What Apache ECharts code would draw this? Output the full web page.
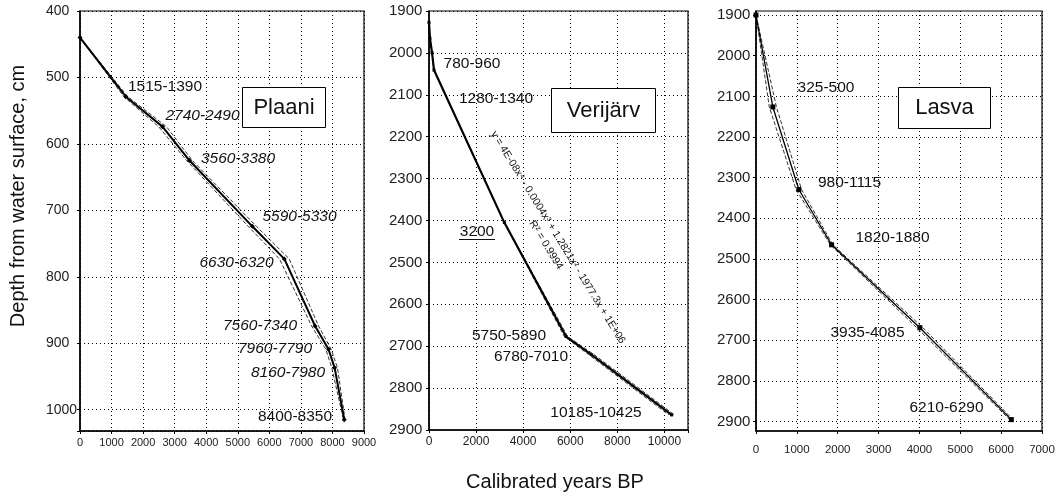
<!DOCTYPE html>
<html><head><meta charset="utf-8">
<script src="https://cdn.jsdelivr.net/npm/echarts@6/dist/echarts.min.js"></script>
<style>html,body{margin:0;padding:0;background:#fff}#c{width:1059px;height:493px}</style>
</head><body><div id="c"></div>
<script>
// ---- Plaani ----
const plaaniYears = [0, 1452, 2615, 3470, 5460, 6475, 7450, 7875, 8070, 8375];
const plaaniLow   = [0, 1390, 2490, 3380, 5330, 6320, 7340, 7790, 7980, 8350];
const plaaniHigh  = [0, 1515, 2740, 3560, 5590, 6630, 7560, 7960, 8160, 8400];
const plaaniDepth = [440, 529, 574, 625, 724, 773, 874, 909, 937, 1015];
// ---- Verijärv ----
const verYears = [0, 40, 130, 212, 3200, 5820, 6895, 10305];
const verLow   = [0, 40, 130, 212, 3200, 5750, 6780, 10185];
const verHigh  = [0, 40, 130, 212, 3200, 5890, 7010, 10425];
const verDepth = [1927, 1965, 2000, 2041, 2405, 2677, 2720, 2864];
// ---- Lasva ----
const lasYears = [0, 412, 1048, 1850, 4010, 6250];
const lasLow   = [0, 325, 980, 1820, 3935, 6210];
const lasHigh  = [0, 500, 1115, 1880, 4085, 6290];
const lasDepth = [1900, 2126, 2329, 2465, 2669, 2895];
// tick labels
const lasYTicks = [1900, 2000, 2100, 2200, 2300, 2400, 2500, 2600, 2700, 2800, 2900];
const verXTicks = [0, 2000, 4000, 6000, 8000, 10000];

const FONT = '"Liberation Sans", Arial, sans-serif';
const zip = (a, b) => a.map((v, i) => [v, b[i]]);
const plain = v => String(v);

const dotted = {show: true, lineStyle: {color: '#000', width: 1, type: [1, 3]}};
function xAx(gi, max, interval, fs, margin, fmt) {
  return {
    type: 'value', gridIndex: gi, min: 0, max: max, interval: interval,
    axisLine: {show: true, onZero: false, lineStyle: {color: '#000', width: 1.5}},
    axisTick: {show: true, length: 3, lineStyle: {color: '#000'}},
    axisLabel: {fontSize: fs, margin: margin, color: '#222', fontFamily: FONT, formatter: fmt || plain},
    splitLine: dotted
  };
}
function yAx(gi, min, max, fs, margin, extra, fmt, custom) {
  const ax = {
    type: 'value', gridIndex: gi, inverse: true, min: min, max: max,
    axisLine: {show: true, onZero: false, lineStyle: {color: '#000', width: 1.5}},
    axisTick: {show: true, length: 3, lineStyle: {color: '#000'}},
    axisLabel: {fontSize: fs, margin: margin, align: 'left', color: '#222', fontFamily: FONT, formatter: fmt || plain},
    splitLine: dotted
  };
  if (custom) { ax.axisTick.customValues = custom; ax.axisLabel.customValues = custom; }
  return Object.assign(ax, extra || {});
}
function mainLine(xi, data, w, sym, ss) {
  return {type: 'line', xAxisIndex: xi, yAxisIndex: xi, data: data, symbol: sym, symbolSize: ss,
    showSymbol: true, itemStyle: {color: '#000'}, lineStyle: {color: '#000', width: w}, z: 5, animation: false};
}
function envLine(xi, data) {
  return {type: 'line', xAxisIndex: xi, yAxisIndex: xi, data: data, symbol: 'none',
    lineStyle: {color: '#000', width: 0.8, type: [4, 2]}, z: 4, animation: false};
}

const gridBox = {show: true, borderColor: '#000', borderWidth: 1.2, backgroundColor: 'transparent'};

function txt(t, x, y, opts, rotation) {
  const g = {type: 'text', x: x, y: y, z: 50,
    style: Object.assign({text: t, fill: '#111', font: '15.5px ' + FONT, align: 'center', verticalAlign: 'middle'}, opts || {})};
  if (rotation !== undefined) g.rotation = rotation;
  return g;
}
function box(x, y, w, h) {
  return {type: 'rect', z: 40, shape: {x: x, y: y, width: w, height: h},
    style: {fill: '#fff', stroke: '#000', lineWidth: 1}};
}
const it = {font: 'italic 15.5px ' + FONT};
const rot = -58.4 * Math.PI / 180;

const option = {
  backgroundColor: '#fff',
  animation: false,
  grid: [
    Object.assign({left: 80, top: 11, width: 284, height: 420}, gridBox),
    Object.assign({left: 429, top: 11, width: 259, height: 419}, gridBox),
    Object.assign({left: 756, top: 11, width: 286, height: 420}, gridBox)
  ],
  xAxis: [
    xAx(0, 9000, 1000, 11, 6),
    xAx(1, 11000, 2000, 12, 6, v => (verXTicks.indexOf(v) >= 0 ? String(v) : '')),
    xAx(2, 7000, 1000, 11.5, 13)
  ],
  yAxis: [
    yAx(0, 400, 1032, 14, 34, {interval: 100}, v => (v % 100 === 0 ? String(v) : '')),
    yAx(1, 1900, 2900, 15, 40, {interval: 100}),
    yAx(2, 1890, 2923, 15, 39, null, null, lasYTicks)
  ],
  series: [
    envLine(0, zip(plaaniLow, plaaniDepth)),
    envLine(0, zip(plaaniHigh, plaaniDepth)),
    mainLine(0, zip(plaaniYears, plaaniDepth), 2, 'diamond', 5),
    envLine(1, zip(verLow, verDepth)),
    envLine(1, zip(verHigh, verDepth)),
    mainLine(1, zip(verYears, verDepth), 2.2, 'rect', 3),
    envLine(2, zip(lasLow, lasDepth)),
    envLine(2, zip(lasHigh, lasDepth)),
    mainLine(2, zip(lasYears, lasDepth), 1.3, 'rect', 5)
  ],
  graphic: [
    // axis titles
    txt('Depth from water surface, cm', 18, 196, {font: '20px ' + FONT}, Math.PI / 2),
    txt('Calibrated years BP', 555, 482, {font: '20px ' + FONT}),
    // Plaani
    box(242.5, 87.5, 83, 40), txt('Plaani', 284, 107.5, {font: '22px ' + FONT}),
    txt('1515-1390', 165, 87),
    txt('2740-2490', 202.5, 116, it),
    txt('3560-3380', 238, 159, it),
    txt('5590-5330', 299.5, 217, it),
    txt('6630-6320', 236.5, 263, it),
    txt('7560-7340', 260, 326, it),
    txt('7960-7790', 275, 349, it),
    txt('8160-7980', 288, 373, it),
    txt('8400-8350', 295, 417),
    // Verijärv
    box(551.5, 88.5, 104, 44), txt('Verijärv', 603.5, 110.5, {font: '22px ' + FONT}),
    txt('780-960', 472, 64),
    txt('1280-1340', 496, 99),
    txt('3200', 477, 232),
    {type: 'line', z: 50, shape: {x1: 459, y1: 239.5, x2: 495, y2: 239.5}, style: {stroke: '#111', lineWidth: 1}},
    txt('5750-5890', 509, 336),
    txt('6780-7010', 531, 357),
    txt('10185-10425', 596, 413),
    txt('y = 4E-08x⁴ - 0.0004x³ + 1.2821x² - 1977.3x + 1E+06', 558, 237.5, {font: '10.5px ' + FONT}, rot),
    txt('R² = 0.9994', 546, 245, {font: '10.5px ' + FONT}, rot),
    // Lasva
    box(898.5, 87.5, 92, 41), txt('Lasva', 944.5, 108, {font: '22px ' + FONT}),
    txt('325-500', 826, 88),
    txt('980-1115', 849.5, 183),
    txt('1820-1880', 892.5, 238),
    txt('3935-4085', 867.5, 333),
    txt('6210-6290', 946.5, 408)
  ]
};
const chart = echarts.init(document.getElementById('c'), null, {renderer: 'canvas'});
chart.setOption(option);
</script></body></html>
